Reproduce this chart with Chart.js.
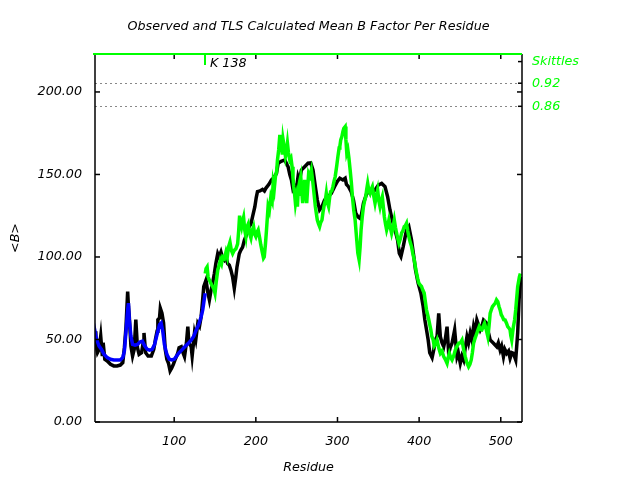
<!DOCTYPE html>
<html>
<head>
<meta charset="utf-8">
<script src="https://cdn.jsdelivr.net/npm/chart.js@4.4.1/dist/chart.umd.min.js"></script>
<style>html,body{margin:0;padding:0;background:#fff;}canvas{display:block;}</style>
</head>
<body>
<canvas id="c" width="640" height="480"></canvas>
<script>
// ---- data: [residue, mean B] ----
const chartTitle = 'Observed and TLS Calculated Mean B Factor Per Residue';
const xTitle = 'Residue';
const yTitle = '<B>';

// Observed (black)
const observedB = [
[3,55],[4,47],[6,42],[8,44],[10,52],[12,40],[13,48],[15,38],[18,37],[22,35],[26,34],[30,34],[34,34.5],[37,36],[39,45],[41,58],[43,79],[44,70],[45,64],[47,46],[49,40],[51,44],[53,62],[55,45],[57,41],[60,42],[62,48],[63,54],[65,42],[68,40],[72,40],[75,44],[77,50],[79,55],[80,62],[82,63],[83,69],[85,66],[87,60],[89,44],[91,38],[93,35.6],[95,31],[97,32.7],[99,35],[101,37.6],[103,40],[104.5,42],[106,45],[108.6,45.6],[110,43],[112.6,39.6],[115,48],[116.7,57.8],[118,48],[120.8,45.6],[122,40],[124.8,53.8],[126.5,50],[128.9,59.8],[131,58],[133,63.8],[134.5,72],[136.2,82],[139,86],[141,79],[143.1,74],[145.2,80],[147,84],[149.2,90],[151,96],[153.3,102],[155,100],[157.3,103],[159.5,99],[161.4,98],[163.5,100],[165.5,96],[167.5,95],[169.5,92],[171.5,88],[173.6,81],[175.5,88],[176.9,94],[179.7,102],[181.5,104],[183.8,106],[185.8,110],[187.8,112.4],[190,116],[191.9,118.4],[194,120],[196,124.4],[198.8,130.5],[200.5,136],[202,139.6],[205,140],[208.2,141],[210.5,140],[212.2,141.6],[216,144],[219.2,146.7],[222,148],[225.3,150.7],[227.3,156.8],[231,158],[235.5,158.8],[239.5,154.7],[241.6,150],[243.6,146.7],[245.5,141],[247.6,142.6],[249.5,140.5],[251.7,148.7],[253.5,146],[255.8,152.7],[259.8,154.7],[263.9,156.8],[267.2,157],[270,152.7],[272.9,142.6],[275.3,134.5],[278.1,128.5],[281,130.5],[284.2,134.5],[288.3,136.5],[292.4,138.5],[296.4,142.6],[299.7,145.7],[302.9,147.7],[306.6,146.7],[309.4,147.7],[311,144],[313.5,142.6],[316.7,139.6],[319.6,134.5],[322.4,126.5],[324.9,124.4],[327.7,123.4],[329.5,126],[331.8,132.6],[335.8,138.5],[339.9,139.6],[343,139],[346,140.6],[350,143.6],[354.1,144.6],[358.2,142.6],[361.4,136.5],[364.3,128.5],[367.1,122.4],[370.4,116.4],[373.6,110.3],[375.7,102.2],[377.7,100.2],[380.5,106.3],[384.6,116.4],[387.4,118.4],[390.7,110.3],[393.5,100.2],[395.6,92.2],[398.8,84.2],[402.1,78.2],[404.9,70.1],[407,62],[409,56],[411,50],[413,42],[415.9,39],[418,44],[419.9,49.7],[422,52],[424,65.8],[426,51.7],[428,48],[430.1,45.6],[432,50],[434.2,57.8],[436.2,41.6],[438,45],[440.3,47.7],[443.5,55.8],[446.4,39.6],[448,42],[450.4,35.6],[452.5,40],[454.5,37.6],[456.5,45],[458.6,51.7],[460.5,48],[462.6,53.8],[464.5,50],[466.7,57.8],[468.5,54],[470.7,61.8],[474.8,55.8],[476.8,58],[478.9,61.8],[482.9,59.8],[485,54],[487,49.7],[491.1,47.7],[495.1,45.6],[497,48],[499.2,43.6],[501,46],[503.3,39.6],[505,44],[507.3,41.6],[509.5,43],[511.4,38.6],[513.5,42],[515.5,41.6],[518.3,37.6],[520.7,53.8],[522.4,74],[524,85],[525,88]
];

// TLS calculated, group 1 (blue)
const tlsGroup1B = [
[1,60],[3,55],[5,50],[8,46],[11,44],[14,41],[18,39],[22,38],[26,37.6],[30,37.6],[34,37.6],[37,39],[39,43],[41,55],[43,68],[44,72],[45,62],[47,52],[49,47],[52,46.5],[55,47],[58,48.5],[61,49],[64,46],[67,44],[70,43.5],[73,44],[76,47],[79,53],[82,59],[84,60],[86,55],[88,47],[91,41],[94,38],[97,37.6],[100,38],[103,40],[106,42],[110,44],[113,45.6],[117,47.5],[121,49.7],[124,52],[127,55.8],[130,59],[133,63.8],[135,68],[137,75],[138,78]
];

// TLS calculated, group 2 (green)
const tlsGroup2B = [
[138,90],[139,93],[140.3,94],[141.5,88],[143.1,86],[145,84],[147.2,82],[149,80],[150,78],[151.5,85],[153.3,92],[155,95],[156.5,98],[158,96],[159.4,100],[161.5,99],[163.4,103],[165,100],[166.5,106],[168.3,109],[170,104],[171.6,102],[173.5,104],[175.6,105],[177.7,108],[179,116],[180.1,125],[181.5,120],[182.5,118],[184,122],[185,124],[186.5,116],[187.8,112.4],[189,118],[190.7,120],[192.5,114],[194,111.5],[195.5,116],[197.2,118.4],[198.5,114],[200,112.4],[201.5,115],[202.9,116.4],[204.5,112],[206.1,107.3],[207.8,103],[209.4,99.3],[210.3,100],[211.8,108],[213,116],[215,130.5],[216.5,128],[218.4,136.5],[220,134],[221.2,144.6],[222.5,141],[224,148.7],[225.5,152],[226.5,158.8],[228,165],[229.4,174],[230.5,168],[231.4,167],[232.5,162],[233.4,171],[235,166],[236.3,161],[237.5,164],[238.7,169],[240,163],[241.6,158.8],[243,160],[244.4,154.7],[245.5,148],[246.4,142.6],[247.5,138],[248.5,132.6],[249.5,136],[250.9,130.5],[251.7,138],[252.5,142.6],[253.8,146],[255,148.7],[256.2,140],[257.4,132.6],[258.6,140],[259.8,146.7],[261,140],[262.3,132.6],[263.5,142],[264.7,150.7],[266.3,149],[268,152.7],[269.2,148],[270.4,142.6],[272,135],[272.9,130.5],[274.2,126],[275.3,122.4],[276.8,120],[278.1,118.4],[279.5,121],[281,122.4],[282.2,127],[283.4,130.5],[285,134],[286.3,138.5],[287.6,133],[289.1,130.5],[290.4,136],[291.6,139.6],[293,140],[294.4,142.6],[295.8,146],[297.2,148.7],[299,155],[300.5,160.8],[302,166],[302.9,167],[304,171],[305.4,173],[306.6,176],[307.8,178],[309.4,179],[310.3,171],[311.4,163],[312.7,165],[314,160],[315.5,152.7],[317,145],[318.3,136.5],[320,128],[321.6,122.4],[323.3,112],[324.9,102.4],[326.5,98.3],[327.7,106],[328.9,116.4],[330.3,124],[331.8,130.5],[333.2,134],[334.6,136.5],[335.8,141],[337,144.6],[338.5,140],[339.9,138.5],[341.3,141],[342.7,142.6],[344.4,137],[346,132.6],[347.6,137],[349.2,140.6],[350.7,134],[352.1,130.5],[353.5,134],[354.9,136.5],[356.2,130],[357.4,124.4],[358.8,120],[360.2,116.4],[361.6,119],[363,122.4],[364.7,118],[366.3,114.4],[368,118],[369.6,122.4],[371,118],[372.4,114.4],[373.9,111],[375.3,108.3],[377,111],[378.5,114.4],[380.2,116],[381.8,118.4],[383.2,119],[384.6,120.4],[386,116],[387.4,112.4],[389,109],[390.7,106.3],[392.3,102],[394,98.3],[395.4,94],[396.8,90.3],[398.2,87],[399.6,84.2],[401.3,83],[402.9,82.2],[404.5,80],[406.2,78.2],[407.6,73],[409,68],[410.4,65],[411.8,62],[413,59],[414.3,56],[415.5,52],[417.1,50],[418.5,46],[420,47],[422,49.7],[424,45],[426,41.6],[428,43],[430.1,39.6],[432,38],[434.2,35.6],[435.6,39],[437,41.6],[438.7,39],[440.3,37.6],[442.3,40],[444.3,43.6],[446.4,46],[448.4,47.7],[450.5,48],[452.5,49.7],[454.5,44],[456.5,39.6],[458.5,36],[460.6,33.5],[462.2,35],[463.8,37.6],[465.2,42],[466.7,47.7],[468.7,51],[470.7,53.8],[472.2,56],[473.6,57.8],[475.2,56],[476.8,55.8],[478.5,58],[480.1,59.8],[482.2,56],[484.2,51.7],[485.6,58],[487,65.8],[488.4,68],[489.8,69.9],[491.5,71],[493.1,71.9],[494.8,74],[496.4,72.9],[497.8,70],[499.2,67.9],[500.6,65],[502,63.8],[503.6,62],[505.3,61.8],[506.9,60],[508.5,57.8],[510,57],[511.4,55.8],[512.4,52],[513.4,49.7],[514.5,54],[515.5,57.8],[517,62],[518.3,67.9],[519.5,75],[520.7,82],[522.8,88],[524,90]
];

// right-side labels (positions on the B scale) and residue marker
const rightLabels = ['Skittles', '0.92', '0.86'];
const rightLabelPos = [218.4, 205.3, 191.3];
const dashedLinePos = [205.3, 191.3];
const markerResidue = [138];
const markerLabel = ['K 138'];

const xMin = 3, xMax = 526, yMin = 0, yMax = 223;

const FONT = 'DejaVu Sans';
const FS = 12.7;
const BLACK = '#000000', BLUE = '#0000ff', GREEN = '#00ff00';
const baseFont = {family: FONT, size: FS, style: 'italic', weight: 'normal'};

const decor = {
  id: 'decor',
  beforeDatasetsDraw(chart) {
    const {ctx, chartArea: a, scales: {y2}} = chart;
    ctx.save();
    ctx.strokeStyle = '#888';
    ctx.lineWidth = 1;
    ctx.setLineDash([2, 3]);
    dashedLinePos.forEach(v => {
      const py = Math.round(y2.getPixelForValue(v)) + 0.5;
      ctx.beginPath(); ctx.moveTo(a.left, py); ctx.lineTo(a.right, py); ctx.stroke();
    });
    ctx.restore();
  },
  afterDraw(chart) {
    const {ctx, chartArea: a, scales: {x, y, y2}} = chart;
    ctx.save();
    const line = (x1, y1, x2, y2_) => { ctx.beginPath(); ctx.moveTo(x1, y1); ctx.lineTo(x2, y2_); ctx.stroke(); };
    ctx.strokeStyle = BLACK;
    ctx.lineWidth = 1.5;
    x.ticks.forEach(t => {
      const px = x.getPixelForValue(t.value);
      line(px, a.bottom, px, a.bottom - 5);
      line(px, a.top, px, a.top + 5);
    });
    y.ticks.forEach(t => {
      const py = y.getPixelForValue(t.value);
      line(a.left, py, a.left + 5, py);
      line(a.right, py, a.right - 5, py);
    });
    y2.ticks.forEach(t => {
      const py = y2.getPixelForValue(t.value);
      line(a.right, py, a.right - 4, py);
    });
    // frame
    line(a.left, a.top, a.left, a.bottom);
    line(a.left, a.bottom, a.right, a.bottom);
    line(a.right, a.top, a.right, a.bottom);
    ctx.strokeStyle = GREEN;
    ctx.lineWidth = 2;
    line(a.left - 2, a.top, a.right, a.top);
    // residue marker
    markerResidue.forEach((r, i) => {
      const px = Math.round(x.getPixelForValue(r));
      ctx.strokeStyle = GREEN; ctx.lineWidth = 2;
      line(px, a.top, px, a.top + 11);
      ctx.fillStyle = BLACK;
      ctx.font = 'italic ' + FS + 'px "' + FONT + '"';
      ctx.textAlign = 'left'; ctx.textBaseline = 'middle';
      ctx.fillText(markerLabel[i], px + 5, a.top + 10);
    });
    ctx.restore();
  }
};

const mk = (data, color, order) => ({
  data: data, borderColor: color, backgroundColor: color, borderWidth: 3.5,
  pointRadius: 0, tension: 0, fill: false, order: order
});

new Chart(document.getElementById('c'), {
  type: 'line',
  data: {
    datasets: [
      mk(tlsGroup2B, GREEN, 1),
      mk(tlsGroup1B, BLUE, 1),
      mk(observedB, BLACK, 2)
    ]
  },
  options: {
    responsive: false,
    animation: false,
    devicePixelRatio: 1,
    layout: {padding: 0},
    plugins: {
      legend: {display: false},
      tooltip: {enabled: false},
      title: {
        display: true, text: chartTitle, color: BLACK, fullSize: false,
        font: baseFont, padding: {top: 19.5, bottom: 19.26}
      }
    },
    scales: {
      x: {
        type: 'linear', position: 'bottom', min: xMin, max: xMax,
        grid: {display: false, drawTicks: false}, border: {display: false},
        ticks: {stepSize: 100, includeBounds: false, color: BLACK, font: baseFont, padding: 12, maxRotation: 0,
          callback: v => String(v)},
        title: {display: true, text: xTitle, color: BLACK, font: baseFont, padding: {top: 0, bottom: 5}},
        afterFit: s => { s.height = 58; }
      },
      y: {
        type: 'linear', position: 'left', min: yMin, max: yMax,
        grid: {display: false, drawTicks: false}, border: {display: false},
        ticks: {stepSize: 50, includeBounds: false, color: BLACK, font: baseFont, padding: 13,
          callback: v => Number(v).toFixed(2)},
        title: {display: true, text: yTitle, color: BLACK, font: baseFont, padding: {top: 8, bottom: 0}},
        afterFit: s => { s.width = 95; }
      },
      y2: {
        type: 'linear', position: 'right', min: yMin, max: yMax,
        grid: {display: false, drawTicks: false}, border: {display: false},
        afterBuildTicks: s => { s.ticks = rightLabelPos.map(v => ({value: v})); },
        ticks: {color: GREEN, font: baseFont, padding: 10,
          callback: (v, i) => rightLabels[i]},
        afterFit: s => { s.width = 118; }
      }
    }
  },
  plugins: [decor]
});
</script>
</body>
</html>
